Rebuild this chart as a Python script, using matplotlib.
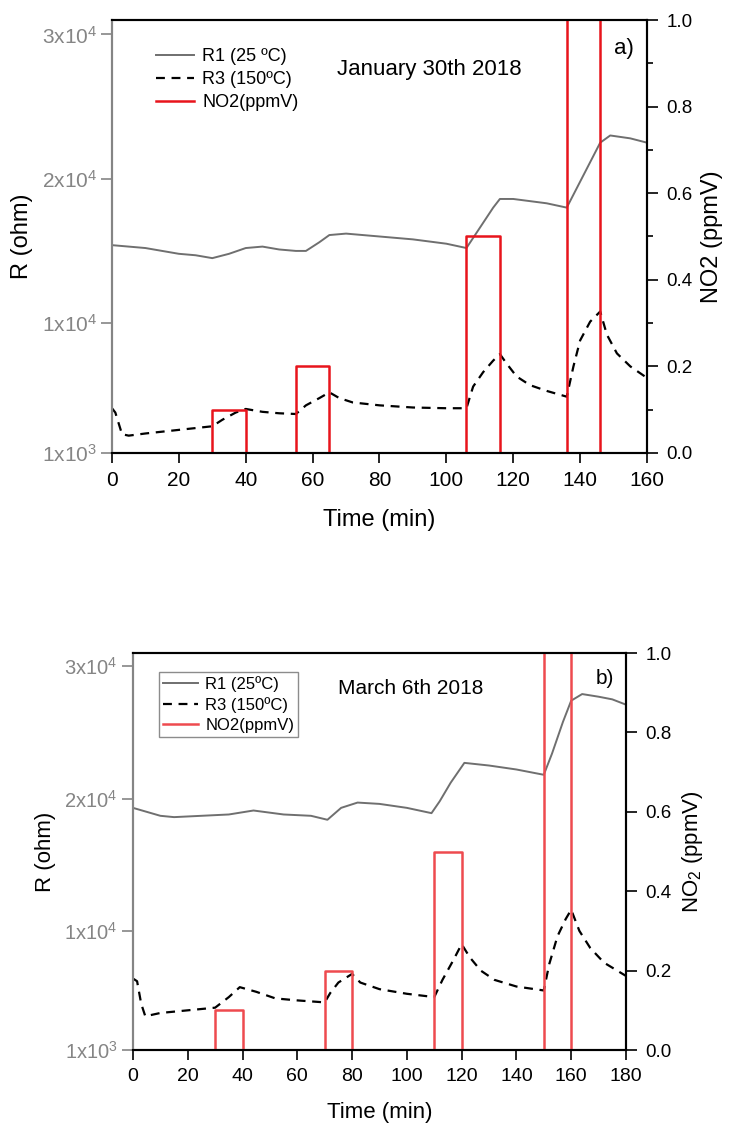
import matplotlib
matplotlib.use('Agg')
import matplotlib.pyplot as plt
from matplotlib.ticker import MultipleLocator

plt.rcParams['font.family'] = ['Liberation Sans', 'DejaVu Sans']
plt.rcParams['mathtext.fontset'] = 'custom'
plt.rcParams['mathtext.rm'] = 'Liberation Sans'
plt.rcParams['mathtext.it'] = 'Liberation Sans:italic'

# ---- panel a: January 30th 2018 ----
t_r1_a = [0, 5, 10, 15, 20, 25, 30, 35, 40, 45, 50, 55, 58, 62, 65, 70, 80, 90,
          100, 106, 110, 114, 116, 120, 130, 136, 140, 144, 146, 149, 155, 160]
r1_a = [15400, 15300, 15200, 15000, 14800, 14700, 14500, 14800, 15200, 15300,
        15100, 15000, 15000, 15600, 16100, 16200, 16000, 15800, 15500, 15200,
        16600, 18000, 18600, 18600, 18300, 18000, 19800, 21600, 22500, 23000,
        22800, 22500]
t_r3_a = [0, 1, 3, 5, 10, 20, 30, 33, 37, 40, 45, 50, 55, 58, 62, 65, 68, 72,
          80, 90, 100, 106, 108, 111, 114, 116, 118, 121, 125, 130, 136, 138,
          140, 143, 146, 148, 151, 155, 160]
r3_a = [4100, 3800, 2300, 2200, 2350, 2600, 2850, 3300, 3800, 4050, 3850, 3750,
        3700, 4300, 4800, 5200, 4800, 4500, 4300, 4150, 4100, 4100, 5600, 6600,
        7400, 7850, 7200, 6300, 5700, 5300, 4900, 7000, 8800, 10100, 10800,
        9200, 7900, 7000, 6200]
t_no2_a = [0, 30, 30, 40, 40, 55, 55, 65, 65, 106, 106, 116, 116, 136, 136, 146, 146, 160]
no2_a = [0, 0, 0.1, 0.1, 0, 0, 0.2, 0.2, 0, 0, 0.5, 0.5, 0, 0, 1.2, 1.2, 0, 0]

# ---- panel b: March 6th 2018 ----
t_r1_b = [0, 5, 10, 15, 25, 35, 44, 55, 65, 71, 76, 82, 90, 100, 109, 112,
          116, 121, 130, 140, 150, 153, 157, 160, 164, 170, 175, 180]
r1_b = [19300, 19000, 18700, 18600, 18700, 18800, 19100, 18800, 18700, 18400,
        19300, 19700, 19600, 19300, 18900, 19800, 21200, 22700, 22500, 22200,
        21800, 23400, 25800, 27400, 27900, 27700, 27500, 27100]
t_r3_b = [0, 1.5, 3, 4.5, 10, 20, 30, 35, 39, 45, 52, 60, 70, 72, 75, 80, 83,
          90, 100, 110, 113, 117, 120, 123, 127, 132, 140, 150, 152, 155, 158,
          160, 163, 167, 172, 180]
r3_b = [6400, 6200, 4500, 3550, 3800, 4000, 4200, 5000, 5750, 5400, 4900, 4750,
        4600, 5300, 6100, 6750, 6100, 5600, 5250, 5000, 6300, 7800, 9000, 8000,
        7000, 6300, 5800, 5500, 7500, 9600, 10900, 11600, 10000, 8700, 7600, 6600]
t_no2_b = [0, 30, 30, 40, 40, 70, 70, 80, 80, 110, 110, 120, 120, 150, 150, 160, 160, 180]
no2_b = [0, 0, 0.1, 0.1, 0, 0, 0.2, 0.2, 0, 0, 0.5, 0.5, 0, 0, 1.2, 1.2, 0, 0]

r_ticks = [1000, 10000, 20000, 30000]
r_ticklabels = [r'1x$10^3$', r'1x$10^4$', r'2x$10^4$', r'3x$10^4$']

GRAY = '#6f6f6f'
TICKGRAY = '#858585'


def panel(rect, t1, r1, t3, r3, tn, no2, xmax, red, lab_r1, date, tag,
          no2_label, fs_left, fs_x, fs_right, fs_lab, fs_text, fs_leg, framed,
          minor, leg_anchor, date_xy, xlabpad, legspace):
    ax = fig.add_axes(rect)
    l1, = ax.plot(t1, r1, color=GRAY, lw=1.4, label=lab_r1)
    l3, = ax.plot(t3, r3, color='black', lw=1.6, ls=(0, (4, 3)), label='R3 (150ºC)')
    ax.set_xlim(0, xmax)
    ax.set_ylim(1000, 31000)
    ax.set_xticks(range(0, xmax + 1, 20))
    ax.set_yticks(r_ticks)
    ax.set_yticklabels(r_ticklabels)
    ax.tick_params(axis='y', colors=TICKGRAY, labelsize=fs_left, length=8, width=1.2,
                   direction='out', pad=3)
    ax.tick_params(axis='x', colors='black', labelsize=fs_x, length=7, width=1.2,
                   direction='out', pad=6)
    ax.set_xlabel('Time (min)', fontsize=fs_lab, labelpad=xlabpad)
    ax.set_ylabel('R (ohm)', fontsize=fs_lab, labelpad=6)

    ax2 = ax.twinx()
    ln, = ax2.plot(tn, no2, color=red, lw=1.8, zorder=1, label='NO2(ppmV)')
    ax2.set_ylim(0, 1.0)
    ax2.yaxis.set_major_locator(MultipleLocator(0.2))
    if minor:
        ax2.yaxis.set_minor_locator(MultipleLocator(0.1))
    ax2.tick_params(axis='y', which='major', labelsize=fs_right, length=8, width=1.2,
                    pad=6)
    ax2.tick_params(axis='y', which='minor', length=4, width=1.2)
    ax2.set_ylabel(no2_label, fontsize=fs_lab, labelpad=6)

    for a in (ax, ax2):
        for s in a.spines.values():
            s.set_linewidth(1.5)
            s.set_color('black')
        a.spines['left'].set_color(TICKGRAY)

    leg = ax2.legend(handles=[l1, l3, ln], loc='upper left', bbox_to_anchor=leg_anchor,
                     fontsize=fs_leg, frameon=framed, fancybox=False,
                     handlelength=2.1, handletextpad=0.45, labelspacing=legspace,
                     borderpad=0.25, borderaxespad=0)
    if framed:
        leg.get_frame().set_edgecolor(GRAY)
        leg.get_frame().set_linewidth(1.0)
    ax2.text(date_xy[0], date_xy[1], date, transform=ax2.transAxes,
             fontsize=fs_text, va='center', ha='left')
    ax2.text(0.975, 0.935, tag, transform=ax2.transAxes, fontsize=fs_text,
             va='center', ha='right')
    return ax, ax2


fig = plt.figure(figsize=(7.31, 11.31), dpi=100)

panel([0.1532, 0.5995, 0.7319, 0.3828], t_r1_a, r1_a, t_r3_a, r3_a, t_no2_a, no2_a,
      160, '#e8141c', 'R1 (25 ºC)', 'January 30th 2018', 'a)', 'NO2 (ppmV)',
      15, 15, 13.5, 17, 16, 13, False, True, (0.074, 0.945), (0.42, 0.885),
      14, 0.32)

panel([0.1819, 0.0716, 0.6744, 0.3510], t_r1_b, r1_b, t_r3_b, r3_b, t_no2_b, no2_b,
      180, '#ee4a4f', 'R1 (25ºC)', 'March 6th 2018', 'b)', r'NO$_2$ (ppmV)',
      14.5, 14, 13.5, 16, 15, 12, True, False, (0.052, 0.952), (0.415, 0.91),
      12, 0.3)

fig.savefig('out.png', dpi=100)
